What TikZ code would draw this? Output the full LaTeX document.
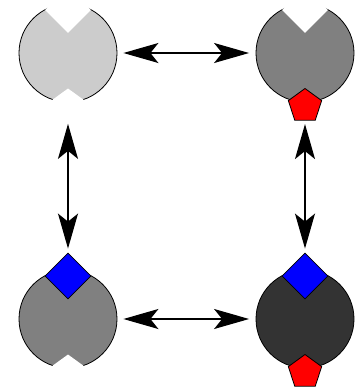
\documentclass[tikz,border=0pt]{standalone}
\usetikzlibrary{shapes.geometric,arrows.meta}
\begin{document}
\begin{tikzpicture}[x=1pt,y=1pt,
  disk/.style={circle, draw=black, line width=0.8pt, minimum size=98pt, inner sep=0pt},
  dnotch/.style={diamond, minimum width=46pt, minimum height=46pt, inner sep=0pt, fill=white},
  pnotch/.style={regular polygon, regular polygon sides=5, minimum size=35pt, inner sep=0pt, fill=white},
  dmark/.style={dnotch, fill=blue, draw=black, line width=0.8pt},
  pmark/.style={pnotch, fill=red, draw=black, line width=0.8pt},
  tip/.tip={Stealth[length=35pt,width=20pt,inset=8pt]},
  harr/.style={tip-tip, line width=1.6pt, shorten <=6pt, shorten >=6.5pt},
  varr/.style={tip-tip, line width=1.6pt, shorten <=3.5pt, shorten >=4pt}
]
\useasboundingbox (0,0) rectangle (357,-389);
% disks
\node[disk, fill=black!20] (tl) at (68,-53) {};
\node[disk, fill=black!50] (tr) at (305,-53) {};
\node[disk, fill=black!50] (bl) at (68,-319) {};
\node[disk, fill=black!80] (br) at (305,-319) {};
% notches and markers
\node[dnotch] (tld) at (68,-10) {};
\node[pnotch] (tlp) at (68,-106) {};
\node[dnotch] (trd) at (305,-10) {};
\node[pmark] (trp) at (305,-106) {};
\node[dmark] (bld) at (68,-276) {};
\node[pnotch] (blp) at (68,-372) {};
\node[dmark] (brd) at (305,-276) {};
\node[pmark] (brp) at (305,-372) {};
% arrows
\draw[harr] (tl.east) -- (tr.west);
\draw[harr] (bl.east) -- (br.west);
\draw[varr] (tlp.south) -- (bld.north);
\draw[varr] (trp.south) -- (brd.north);
\end{tikzpicture}
\end{document}
